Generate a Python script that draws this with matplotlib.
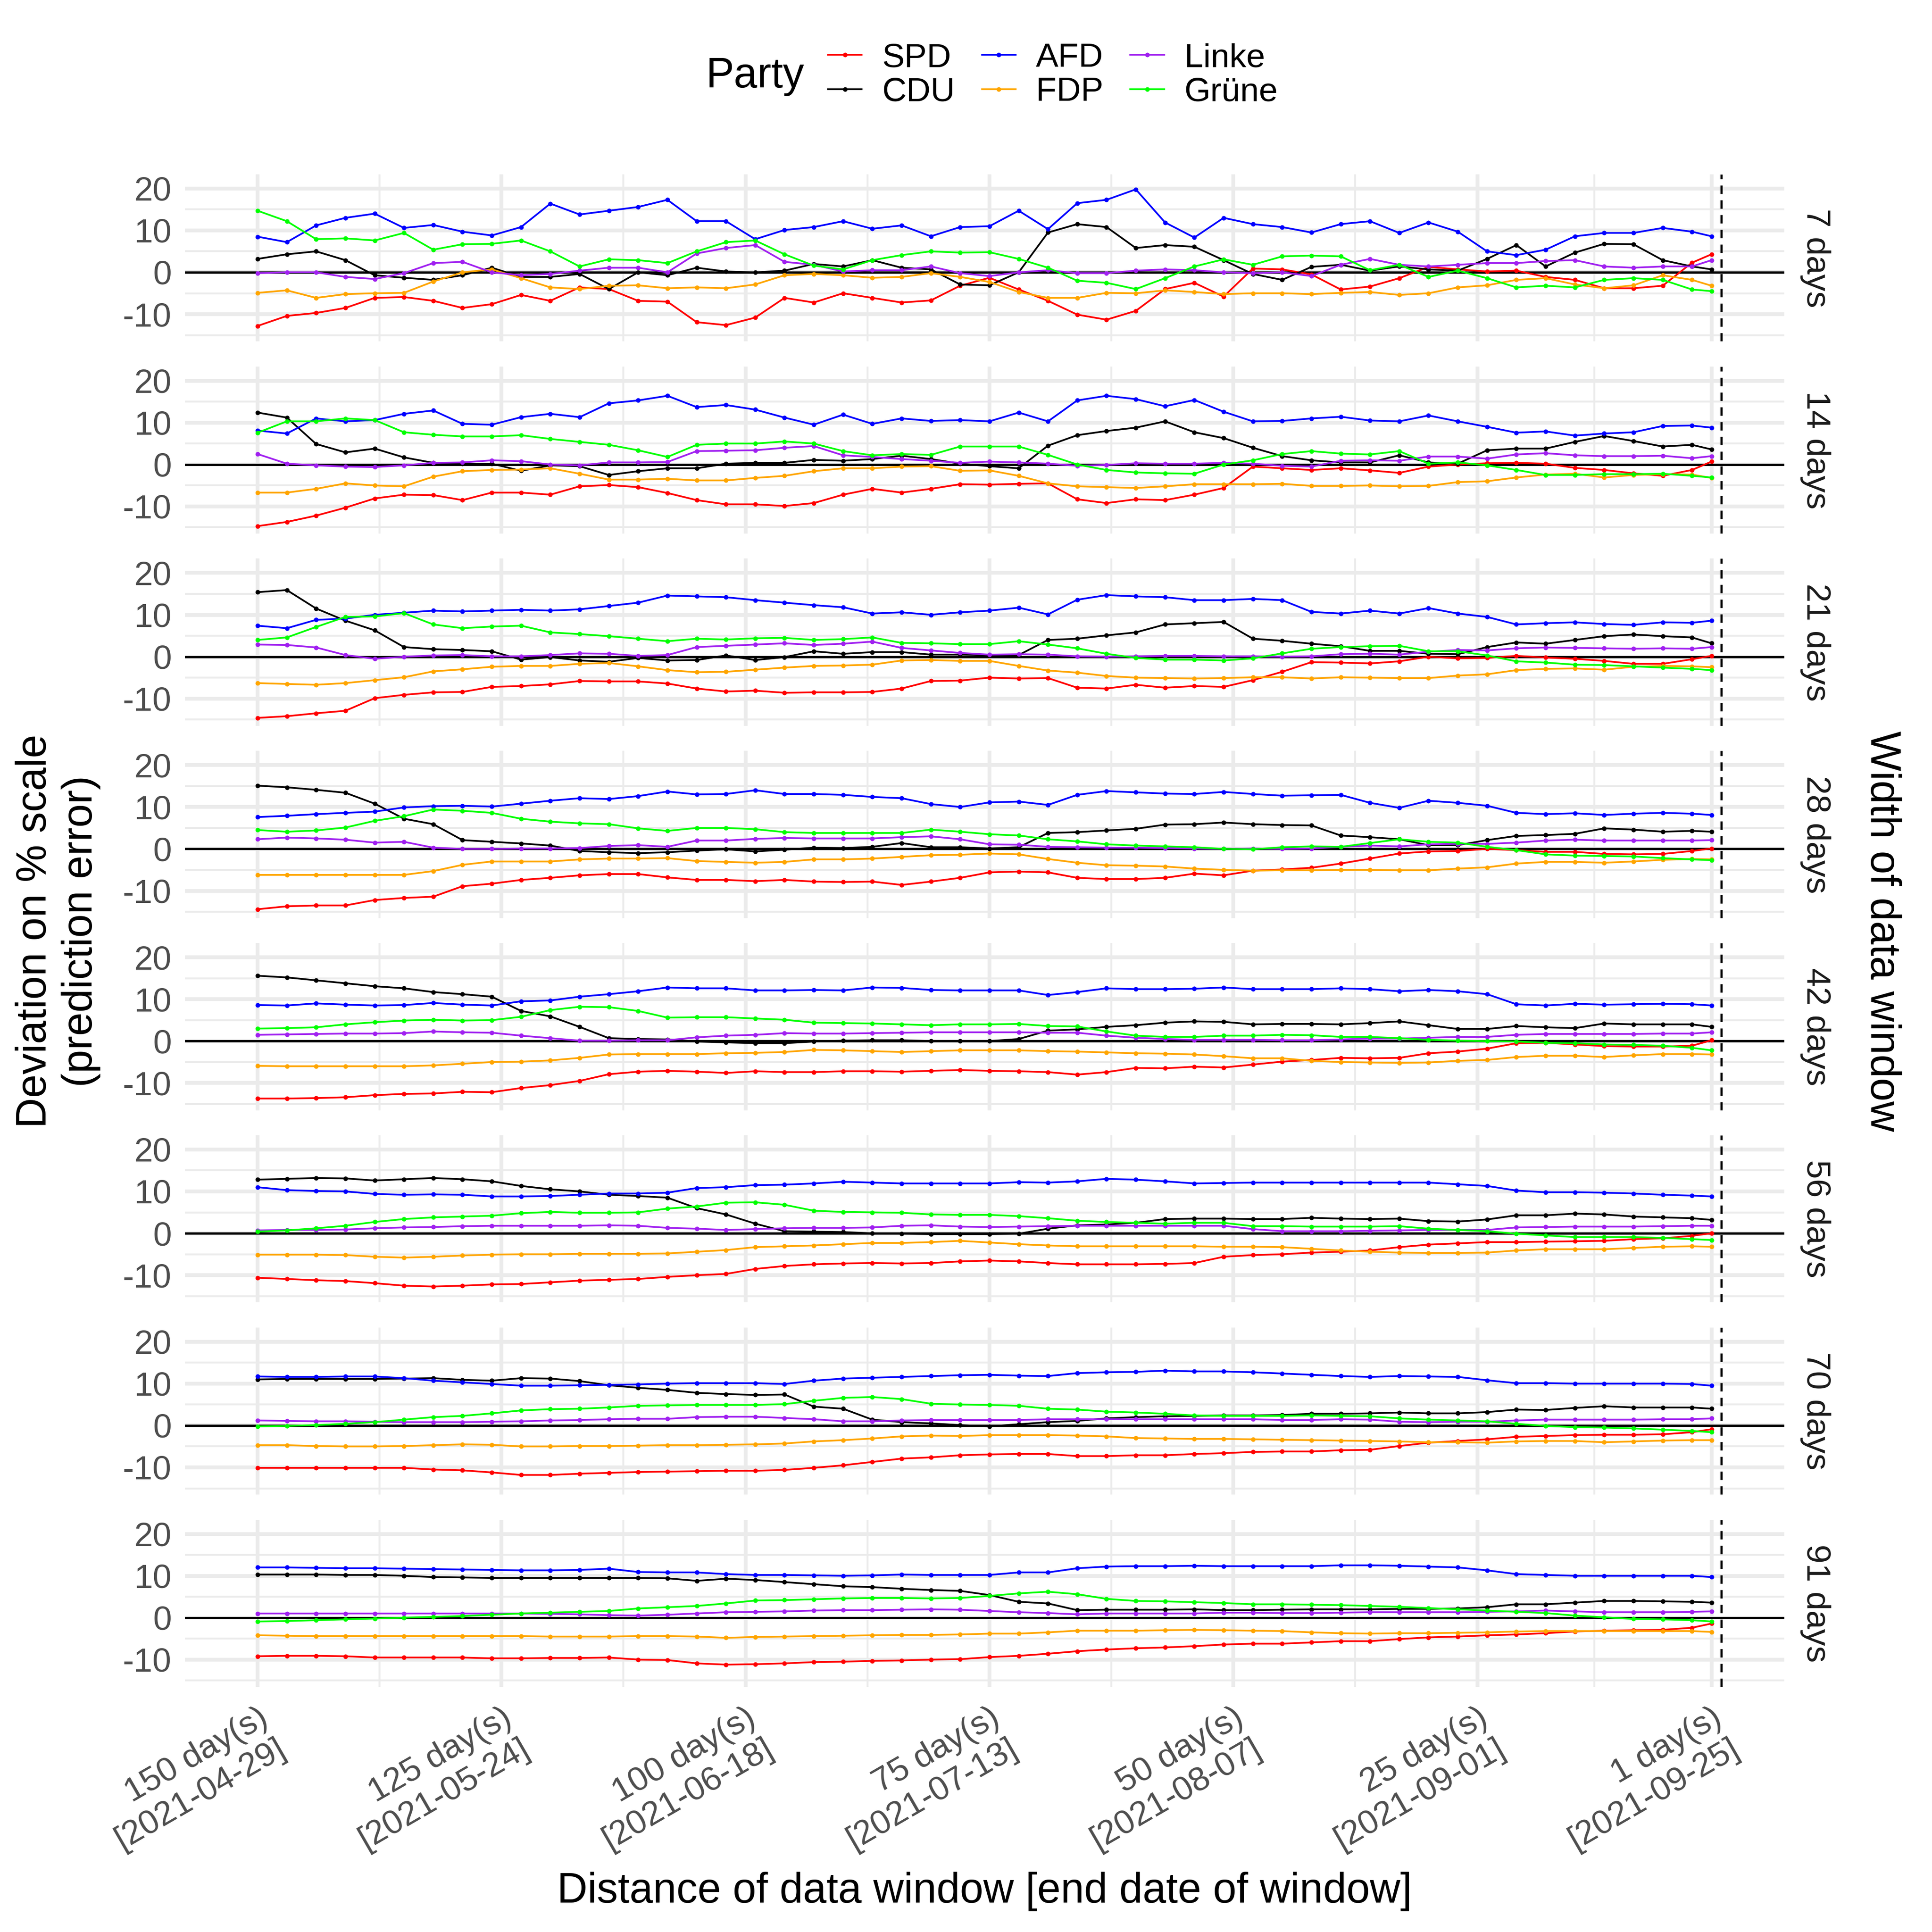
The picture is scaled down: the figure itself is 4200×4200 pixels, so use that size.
import matplotlib.pyplot as plt
from matplotlib.lines import Line2D

plt.rcParams['font.family'] = ['Liberation Sans', 'DejaVu Sans']
plt.rcParams['axes.unicode_minus'] = False

# distance of the data window (days before the election), sampled every 3 days
days = list(range(150, 0, -3)) + [1]

# 7 days window
spd_7 = [-12.8, -10.4, -9.7, -8.5, -6.1, -5.9, -6.8, -8.5, -7.6, -5.4, -6.8, -3.6, -4.0, -6.8, -7.0, -11.9, -12.6, -10.8, -6.1, -7.2, -5.0, -6.1, -7.2, -6.7, -3.2, -1.3,
         -4.1, -6.8, -10.1, -11.3, -9.2, -4.0, -2.5, -5.8, 0.9, 0.7, -0.5, -4.1, -3.4, -1.4, 1.3, 0.7, 0.2, 0.4, -1.1, -1.8, -3.8, -3.8, -3.2, 2.3, 4.3]
cdu_7 = [3.2, 4.3, 5.0, 2.9, -0.7, -1.3, -1.8, -0.7, 1.1, -1.1, -1.1, -0.4, -4.0, 0.0, -0.7, 1.1, 0.2, 0.0, 0.4, 2.0, 1.4, 2.9, 1.1, 0.7, -2.9, -3.1,
         0.0, 9.5, 11.5, 10.8, 5.8, 6.5, 6.1, 2.9, -0.4, -1.8, 1.3, 1.8, 0.4, 1.4, 0.7, 0.4, 3.2, 6.5, 1.4, 4.7, 6.8, 6.7, 2.9, 1.4, 0.7]
afd_7 = [8.5, 7.2, 11.2, 13.0, 14.0, 10.6, 11.3, 9.7, 8.8, 10.8, 16.4, 13.8, 14.7, 15.6, 17.3, 12.2, 12.2, 7.9, 10.1, 10.8, 12.2, 10.4, 11.2, 8.6, 10.8, 11.0,
         14.7, 10.3, 16.5, 17.3, 19.8, 11.9, 8.3, 13.0, 11.5, 10.8, 9.5, 11.5, 12.2, 9.4, 11.9, 9.7, 5.0, 4.1, 5.4, 8.6, 9.4, 9.4, 10.6, 9.7, 8.6]
fdp_7 = [-4.9, -4.3, -6.1, -5.2, -5.0, -4.9, -2.2, 0.0, 0.7, -1.4, -3.6, -4.0, -3.2, -3.1, -3.8, -3.6, -3.8, -2.9, -0.7, -0.4, -0.7, -1.3, -1.1, -0.2, -1.1, -2.3,
         -4.7, -6.1, -6.1, -4.9, -5.0, -4.3, -4.7, -5.2, -5.0, -5.0, -5.2, -4.9, -4.7, -5.4, -5.0, -3.6, -3.1, -1.8, -1.4, -2.9, -3.8, -3.1, -0.7, -1.8, -3.2]
lin_7 = [-0.2, 0.0, 0.0, -1.1, -1.6, -0.2, 2.2, 2.5, 0.0, -0.7, -0.4, 0.4, 1.1, 1.1, 0.0, 4.5, 5.8, 6.5, 2.5, 1.8, 0.2, 0.5, 0.5, 1.4, -0.2, -0.9,
         0.0, 0.5, -0.2, -0.2, 0.4, 0.7, 0.5, 0.0, -0.2, 0.0, -0.9, 1.8, 3.2, 1.8, 1.4, 1.8, 2.2, 2.2, 2.7, 2.9, 1.4, 1.1, 1.4, 1.4, 2.9]
gru_7 = [14.7, 12.2, 7.9, 8.1, 7.6, 9.4, 5.4, 6.7, 6.8, 7.6, 5.0, 1.4, 3.1, 2.9, 2.2, 5.0, 7.2, 7.6, 4.3, 1.6, 0.7, 2.9, 4.1, 5.0, 4.7, 4.8,
         3.2, 1.1, -2.0, -2.5, -4.0, -1.4, 1.4, 3.1, 1.8, 3.8, 4.0, 3.8, 0.5, 1.8, -1.1, 0.4, -1.4, -3.6, -3.2, -3.6, -1.8, -1.4, -1.8, -4.1, -4.5]

# 14 days window
spd_14 = [-14.7, -13.7, -12.2, -10.3, -8.1, -7.2, -7.3, -8.5, -6.7, -6.7, -7.2, -5.2, -4.9, -5.4, -6.8, -8.5, -9.5, -9.5, -9.9, -9.2, -7.2, -5.8, -6.7, -5.8, -4.7, -4.8,
          -4.6, -4.5, -8.3, -9.2, -8.3, -8.5, -7.2, -5.6, -0.5, -0.9, -1.3, -0.9, -1.4, -2.0, -0.5, 0.0, 0.3, 0.4, 0.2, -0.8, -1.3, -2.1, -2.7, -1.3, 0.7]
cdu_14 = [12.4, 11.2, 4.9, 2.9, 3.8, 1.7, 0.4, 0.2, 0.2, -1.5, -0.2, -0.4, -2.5, -1.6, -0.9, -0.9, 0.2, 0.4, 0.4, 1.1, 0.9, 1.3, 2.1, 1.3, 0.2, -0.4,
          -0.9, 4.5, 7.0, 8.0, 8.8, 10.3, 7.7, 6.3, 4.0, 2.0, 1.0, 0.5, 0.5, 2.2, 0.5, 0.2, 3.4, 3.8, 3.8, 5.4, 6.8, 5.6, 4.3, 4.7, 3.6]
afd_14 = [8.1, 7.4, 11.0, 10.3, 10.6, 12.1, 12.9, 9.7, 9.5, 11.3, 12.1, 11.3, 14.6, 15.3, 16.4, 13.7, 14.2, 13.1, 11.2, 9.5, 11.9, 9.7, 11.0, 10.4, 10.6, 10.3,
          12.4, 10.3, 15.3, 16.4, 15.6, 13.9, 15.4, 12.6, 10.3, 10.4, 11.0, 11.4, 10.5, 10.3, 11.7, 10.3, 9.0, 7.6, 7.9, 6.9, 7.4, 7.7, 9.2, 9.3, 8.8]
fdp_14 = [-6.7, -6.7, -5.8, -4.5, -5.0, -5.2, -2.9, -1.6, -1.3, -1.2, -0.9, -2.2, -3.6, -3.6, -3.4, -3.8, -3.8, -3.2, -2.7, -1.6, -0.9, -0.9, -0.5, -0.4, -1.5, -1.4,
          -2.7, -4.5, -5.2, -5.4, -5.6, -5.2, -4.7, -4.7, -4.7, -4.6, -5.1, -5.1, -5.0, -5.2, -5.1, -4.2, -4.0, -3.1, -2.4, -2.2, -3.1, -2.5, -2.3, -2.4, -3.2]
lin_14 = [2.5, 0.2, -0.2, -0.5, -0.6, -0.2, 0.4, 0.5, 1.0, 0.8, 0.0, -0.2, 0.5, 0.5, 0.6, 3.2, 3.3, 3.4, 4.0, 4.4, 2.2, 1.8, 1.3, 0.9, 0.4, 0.7,
          0.5, 0.2, -0.3, -0.1, 0.3, 0.2, 0.2, 0.4, 0.2, -0.3, -0.5, 0.9, 1.0, 0.9, 1.9, 1.9, 1.4, 2.4, 2.7, 2.2, 2.0, 2.0, 2.1, 1.5, 2.0]
gru_14 = [7.6, 10.3, 10.3, 11.0, 10.6, 7.7, 7.1, 6.7, 6.7, 7.0, 6.1, 5.4, 4.7, 3.4, 1.8, 4.7, 5.0, 5.0, 5.5, 5.0, 3.2, 2.2, 2.5, 2.3, 4.3, 4.3,
          4.3, 2.3, 0.0, -1.3, -1.9, -2.1, -2.2, 0.0, 1.0, 2.5, 3.2, 2.6, 2.4, 3.2, 0.2, 0.5, -0.2, -1.3, -2.5, -2.5, -2.3, -2.3, -2.2, -2.7, -3.1]

# 21 days window
spd_21 = [-14.6, -14.2, -13.5, -12.9, -9.9, -9.1, -8.5, -8.4, -7.2, -7.0, -6.6, -5.8, -5.9, -5.9, -6.4, -7.6, -8.3, -8.1, -8.6, -8.5, -8.5, -8.4, -7.6, -5.8, -5.7, -5.0,
          -5.2, -5.1, -7.4, -7.6, -6.7, -7.4, -7.0, -7.2, -5.6, -3.6, -1.3, -1.4, -1.6, -1.1, 0.0, -0.4, -0.3, 0.2, -0.2, -0.5, -1.0, -1.7, -1.7, -0.6, 0.2]
cdu_21 = [15.4, 15.9, 11.5, 8.6, 6.3, 2.3, 1.8, 1.6, 1.3, -0.7, -0.1, -0.9, -1.2, -0.3, -0.9, -0.8, 0.3, -0.8, -0.1, 1.3, 0.7, 1.1, 1.1, 0.5, 0.5, 0.3,
          0.4, 4.0, 4.3, 5.1, 5.8, 7.7, 8.0, 8.3, 4.3, 3.8, 3.1, 2.5, 1.4, 1.4, 0.7, 0.6, 2.3, 3.4, 3.1, 4.0, 4.9, 5.3, 4.9, 4.6, 3.2]
afd_21 = [7.4, 6.8, 8.8, 9.1, 10.0, 10.5, 11.0, 10.8, 11.0, 11.2, 11.0, 11.3, 12.1, 12.9, 14.6, 14.4, 14.2, 13.5, 12.9, 12.3, 11.8, 10.3, 10.6, 10.0, 10.6, 11.0,
          11.7, 10.1, 13.6, 14.7, 14.4, 14.2, 13.5, 13.5, 13.8, 13.5, 10.7, 10.3, 11.0, 10.3, 11.6, 10.3, 9.5, 7.7, 8.0, 8.2, 7.8, 7.6, 8.2, 8.1, 8.6]
fdp_21 = [-6.3, -6.5, -6.7, -6.3, -5.6, -4.9, -3.5, -3.0, -2.4, -2.2, -2.2, -1.7, -1.5, -2.3, -3.2, -3.7, -3.6, -3.1, -2.6, -2.2, -2.1, -1.9, -0.9, -0.8, -1.0, -1.0,
          -2.2, -3.3, -3.8, -4.6, -5.0, -5.1, -5.2, -5.1, -4.9, -4.9, -5.2, -4.9, -5.0, -5.1, -5.1, -4.5, -4.2, -3.2, -2.9, -2.8, -3.1, -2.4, -2.2, -2.3, -2.5]
lin_21 = [2.9, 2.8, 2.2, 0.4, -0.5, 0.0, 0.3, 0.4, 0.1, 0.1, 0.4, 0.8, 0.7, 0.2, 0.4, 2.3, 2.6, 2.9, 3.2, 2.8, 3.1, 3.6, 2.1, 1.5, 0.9, 0.5,
          0.6, 0.5, 0.1, 0.0, 0.1, 0.2, 0.2, 0.1, 0.1, 0.0, 0.1, 0.6, 0.7, 0.5, 1.2, 1.6, 1.5, 2.0, 2.2, 2.1, 2.0, 1.9, 2.0, 1.9, 2.3]
gru_21 = [4.0, 4.6, 7.1, 9.5, 9.6, 10.4, 7.7, 6.8, 7.2, 7.4, 5.8, 5.4, 4.9, 4.3, 3.7, 4.3, 4.1, 4.4, 4.5, 4.0, 4.2, 4.6, 3.3, 3.2, 3.0, 3.0,
          3.7, 2.9, 2.0, 0.7, -0.3, -0.7, -0.7, -0.9, -0.4, 0.8, 1.9, 2.3, 2.5, 2.6, 1.3, 1.3, 0.3, -1.1, -1.4, -1.9, -2.0, -2.3, -2.6, -2.9, -3.2]

# 28 days window
spd_28 = [-14.4, -13.7, -13.5, -13.5, -12.2, -11.7, -11.4, -8.9, -8.3, -7.4, -6.9, -6.3, -6.0, -6.0, -6.8, -7.4, -7.4, -7.7, -7.4, -7.8, -7.9, -7.8, -8.6, -7.8, -6.9, -5.6,
          -5.4, -5.6, -6.9, -7.2, -7.2, -6.9, -5.9, -6.3, -5.2, -4.9, -4.5, -3.5, -2.3, -1.1, -0.6, -0.5, 0.0, -0.3, -0.7, -0.7, -1.2, -1.3, -1.2, -0.5, 0.1]
cdu_28 = [15.1, 14.7, 14.1, 13.4, 10.8, 7.2, 5.9, 2.1, 1.7, 1.3, 0.8, -0.5, -0.8, -1.0, -0.8, -0.4, -0.1, -0.6, -0.2, 0.3, 0.2, 0.5, 1.4, 0.4, 0.4, 0.1,
          0.4, 3.8, 4.0, 4.4, 4.8, 5.8, 5.9, 6.3, 5.9, 5.7, 5.6, 3.2, 2.8, 2.3, 0.9, 0.9, 2.1, 3.1, 3.3, 3.6, 4.9, 4.6, 4.1, 4.3, 4.1]
afd_28 = [7.6, 7.9, 8.3, 8.6, 8.9, 9.9, 10.2, 10.3, 10.1, 10.8, 11.5, 12.1, 11.9, 12.6, 13.7, 13.0, 13.1, 14.0, 13.1, 13.1, 12.9, 12.4, 12.1, 10.7, 10.0, 11.1,
          11.3, 10.5, 12.9, 13.8, 13.5, 13.2, 13.1, 13.6, 13.1, 12.7, 12.8, 12.9, 11.0, 9.8, 11.5, 11.0, 10.3, 8.6, 8.3, 8.5, 8.1, 8.4, 8.6, 8.4, 8.1]
fdp_28 = [-6.2, -6.2, -6.2, -6.2, -6.2, -6.2, -5.3, -3.8, -3.0, -3.0, -3.0, -2.5, -2.3, -2.3, -2.2, -2.9, -3.1, -3.3, -3.1, -2.5, -2.5, -2.3, -1.9, -1.5, -1.4, -1.1,
          -1.3, -2.4, -3.3, -3.9, -4.0, -4.2, -4.7, -5.0, -5.2, -5.1, -5.1, -5.0, -5.0, -5.1, -5.1, -4.7, -4.4, -3.5, -3.1, -3.1, -3.3, -3.0, -2.6, -2.4, -2.5]
lin_28 = [2.3, 2.7, 2.5, 2.2, 1.5, 1.7, 0.3, 0.0, 0.0, 0.1, 0.1, 0.2, 0.7, 0.9, 0.5, 2.0, 2.0, 2.4, 2.6, 2.5, 2.5, 2.5, 2.8, 3.0, 2.3, 1.1,
          1.0, 0.5, 0.4, 0.3, 0.3, 0.2, 0.1, 0.0, 0.1, 0.0, 0.1, 0.5, 0.8, 0.6, 1.1, 1.2, 1.2, 1.5, 2.0, 2.2, 2.0, 2.0, 2.0, 2.0, 2.1]
gru_28 = [4.5, 4.1, 4.4, 5.1, 6.7, 7.8, 9.4, 9.1, 8.6, 7.2, 6.5, 6.1, 5.9, 4.9, 4.3, 5.0, 5.0, 4.7, 4.0, 3.8, 3.8, 3.8, 3.8, 4.6, 4.1, 3.5,
          3.2, 2.3, 1.8, 1.1, 0.8, 0.6, 0.4, 0.0, -0.1, 0.4, 0.6, 0.5, 1.4, 2.3, 1.7, 1.5, 0.5, -0.3, -1.3, -1.6, -1.7, -1.8, -2.2, -2.5, -2.7]

# 42 days window
spd_42 = [-13.7, -13.7, -13.6, -13.4, -12.9, -12.6, -12.5, -12.1, -12.2, -11.2, -10.5, -9.5, -7.9, -7.3, -7.1, -7.3, -7.6, -7.2, -7.4, -7.4, -7.2, -7.2, -7.3, -7.1, -6.9, -7.1,
          -7.2, -7.4, -8.0, -7.4, -6.4, -6.5, -6.1, -6.3, -5.6, -4.9, -4.5, -4.0, -4.1, -4.0, -2.9, -2.5, -1.8, -0.5, -0.4, -0.8, -1.2, -1.3, -1.3, -1.1, 0.2]
cdu_42 = [15.6, 15.2, 14.5, 13.8, 13.1, 12.6, 11.7, 11.2, 10.6, 7.2, 5.9, 3.4, 0.7, 0.5, 0.4, -0.1, -0.3, -0.5, -0.5, -0.1, 0.1, 0.2, 0.2, 0.0, 0.0, 0.0,
          0.5, 2.5, 2.8, 3.4, 3.8, 4.4, 4.7, 4.6, 4.0, 4.1, 4.1, 4.0, 4.3, 4.7, 3.8, 2.9, 2.9, 3.6, 3.3, 3.1, 4.2, 4.0, 4.0, 4.0, 3.4]
afd_42 = [8.6, 8.5, 9.0, 8.7, 8.5, 8.6, 9.1, 8.7, 8.5, 9.5, 9.7, 10.6, 11.2, 11.9, 12.8, 12.6, 12.6, 12.1, 12.1, 12.2, 12.1, 12.8, 12.7, 12.2, 12.1, 12.1,
          12.1, 11.0, 11.7, 12.6, 12.4, 12.4, 12.5, 12.8, 12.4, 12.4, 12.4, 12.6, 12.4, 11.9, 12.2, 11.9, 11.2, 8.8, 8.5, 8.9, 8.7, 8.8, 8.9, 8.8, 8.5]
fdp_42 = [-5.9, -6.0, -6.0, -6.0, -6.0, -6.0, -5.8, -5.4, -5.0, -4.9, -4.6, -4.0, -3.2, -3.1, -3.1, -3.1, -2.9, -2.8, -2.6, -2.1, -2.2, -2.4, -2.6, -2.4, -2.2, -2.2,
          -2.2, -2.4, -2.5, -2.7, -2.9, -3.0, -3.2, -3.6, -4.1, -4.1, -4.7, -5.0, -5.1, -5.2, -5.1, -4.7, -4.5, -3.8, -3.5, -3.5, -3.8, -3.4, -3.1, -3.1, -3.2]
lin_42 = [1.5, 1.6, 1.7, 1.8, 1.8, 1.9, 2.3, 2.1, 2.0, 1.3, 0.7, 0.1, 0.1, 0.2, 0.2, 0.9, 1.3, 1.5, 1.9, 1.8, 1.8, 1.9, 2.0, 2.1, 2.1, 2.1,
          2.1, 2.0, 2.0, 1.3, 0.8, 0.5, 0.3, 0.3, 0.3, 0.2, 0.2, 0.4, 0.6, 0.6, 0.8, 1.0, 1.0, 1.5, 1.7, 1.7, 1.7, 1.7, 1.8, 1.8, 2.1]
gru_42 = [3.0, 3.1, 3.3, 4.0, 4.5, 4.9, 5.1, 4.9, 5.0, 5.8, 7.4, 8.2, 8.1, 7.2, 5.6, 5.7, 5.7, 5.4, 5.1, 4.4, 4.3, 4.2, 4.0, 3.8, 4.0, 4.0,
          4.1, 3.6, 3.5, 2.3, 1.3, 1.0, 1.0, 1.3, 1.3, 1.5, 1.4, 1.0, 1.0, 0.7, 0.3, 0.1, 0.0, -0.1, -0.4, -0.5, -0.8, -0.9, -1.1, -1.6, -2.2]

# 56 days window
spd_56 = [-10.6, -10.9, -11.2, -11.4, -11.9, -12.5, -12.7, -12.5, -12.2, -12.1, -11.7, -11.3, -11.1, -10.9, -10.4, -10.0, -9.7, -8.5, -7.8, -7.4, -7.2, -7.1, -7.2, -7.1, -6.7, -6.5,
          -6.7, -7.1, -7.4, -7.4, -7.4, -7.3, -7.1, -5.6, -5.2, -5.0, -4.6, -4.4, -4.1, -3.3, -2.7, -2.4, -2.1, -2.1, -2.0, -1.9, -1.8, -1.4, -1.2, -0.6, 0.0]
cdu_56 = [12.8, 13.0, 13.2, 13.1, 12.6, 12.9, 13.2, 12.9, 12.4, 11.3, 10.5, 10.0, 9.2, 8.9, 8.5, 6.0, 4.5, 2.3, 0.5, 0.4, 0.3, 0.0, -0.1, -0.2, -0.2, -0.2,
          -0.1, 1.1, 1.9, 2.1, 2.5, 3.4, 3.5, 3.5, 3.4, 3.4, 3.7, 3.5, 3.4, 3.5, 2.9, 2.8, 3.3, 4.3, 4.3, 4.7, 4.5, 4.0, 3.8, 3.6, 3.2]
afd_56 = [11.0, 10.3, 10.1, 10.0, 9.4, 9.2, 9.3, 9.2, 8.8, 8.8, 8.9, 9.2, 9.5, 9.5, 9.7, 10.8, 11.0, 11.5, 11.6, 11.9, 12.3, 12.1, 11.9, 11.9, 11.9, 11.9,
          12.2, 12.1, 12.4, 13.0, 12.8, 12.4, 11.9, 12.0, 12.1, 12.1, 12.1, 12.1, 12.1, 12.1, 12.1, 11.7, 11.3, 10.2, 9.8, 9.8, 9.7, 9.5, 9.2, 9.0, 8.8]
fdp_56 = [-5.1, -5.1, -5.1, -5.2, -5.6, -5.8, -5.6, -5.3, -5.1, -5.0, -5.0, -4.9, -4.9, -4.9, -4.8, -4.4, -4.0, -3.3, -3.1, -2.9, -2.6, -2.3, -2.3, -2.1, -1.8, -2.2,
          -2.6, -2.9, -3.1, -3.1, -3.1, -3.1, -3.1, -3.2, -3.2, -3.3, -3.7, -4.1, -4.4, -4.6, -4.7, -4.7, -4.6, -4.1, -3.8, -3.8, -3.8, -3.5, -3.2, -3.1, -3.2]
lin_56 = [0.7, 0.8, 0.8, 0.9, 1.2, 1.4, 1.5, 1.7, 1.8, 1.8, 1.8, 1.8, 1.9, 1.8, 1.3, 1.1, 0.8, 1.0, 1.2, 1.3, 1.3, 1.4, 1.8, 1.9, 1.6, 1.5,
          1.6, 1.7, 1.8, 1.8, 1.8, 1.8, 1.8, 1.8, 1.0, 0.5, 0.5, 0.5, 0.6, 0.7, 0.8, 0.8, 0.8, 1.4, 1.5, 1.6, 1.6, 1.6, 1.7, 1.8, 1.8]
gru_56 = [0.4, 0.7, 1.2, 1.8, 2.7, 3.4, 3.8, 4.0, 4.2, 4.8, 5.1, 4.9, 4.9, 5.0, 5.9, 6.4, 7.3, 7.4, 6.8, 5.4, 5.1, 5.0, 4.9, 4.5, 4.4, 4.4,
          4.1, 3.6, 3.0, 2.7, 2.5, 2.3, 2.5, 2.5, 1.7, 1.7, 1.6, 1.6, 1.6, 1.7, 1.1, 0.8, 0.5, -0.1, -0.5, -0.9, -0.9, -0.9, -1.1, -1.4, -1.6]

# 70 days window
spd_70 = [-10.1, -10.1, -10.1, -10.1, -10.1, -10.1, -10.5, -10.7, -11.2, -11.8, -11.8, -11.5, -11.3, -11.1, -11.0, -10.9, -10.8, -10.8, -10.6, -10.1, -9.5, -8.7, -7.9, -7.6, -7.1, -6.9,
          -6.8, -6.8, -7.3, -7.3, -7.1, -7.1, -6.8, -6.6, -6.3, -6.2, -6.2, -5.9, -5.8, -4.9, -4.1, -3.7, -3.3, -2.7, -2.5, -2.3, -2.2, -2.2, -2.1, -1.6, -0.9]
cdu_70 = [11.0, 11.1, 11.1, 11.1, 11.1, 11.2, 11.3, 10.9, 10.7, 11.3, 11.2, 10.6, 9.6, 9.0, 8.5, 7.8, 7.5, 7.3, 7.4, 4.5, 4.0, 1.4, 0.8, 0.5, 0.1, -0.2,
          0.3, 0.8, 1.1, 1.7, 2.0, 2.2, 2.3, 2.4, 2.4, 2.5, 2.8, 2.8, 2.9, 3.1, 2.9, 2.9, 3.2, 3.8, 3.7, 4.2, 4.6, 4.3, 4.3, 4.3, 4.0]
afd_70 = [11.7, 11.6, 11.6, 11.7, 11.7, 11.3, 10.7, 10.3, 9.9, 9.5, 9.5, 9.6, 9.7, 9.8, 10.0, 10.1, 10.1, 10.1, 9.9, 10.7, 11.2, 11.4, 11.6, 11.8, 12.0, 12.1,
          11.9, 11.8, 12.5, 12.7, 12.8, 13.1, 12.9, 12.9, 12.7, 12.4, 12.1, 11.8, 11.6, 11.8, 11.7, 11.6, 10.8, 10.1, 10.1, 10.0, 10.0, 10.0, 10.0, 9.9, 9.5]
fdp_70 = [-4.7, -4.7, -4.9, -5.0, -5.0, -4.9, -4.7, -4.5, -4.6, -5.0, -5.0, -4.9, -4.9, -4.8, -4.7, -4.7, -4.6, -4.5, -4.3, -3.8, -3.5, -3.1, -2.6, -2.4, -2.5, -2.3,
          -2.3, -2.3, -2.4, -2.6, -3.0, -3.1, -3.2, -3.2, -3.3, -3.4, -3.5, -3.6, -3.7, -3.8, -4.0, -4.0, -4.1, -3.8, -3.7, -3.7, -4.0, -3.8, -3.6, -3.5, -3.5]
lin_70 = [1.2, 1.1, 1.0, 1.0, 0.9, 0.8, 0.8, 0.8, 0.9, 1.0, 1.2, 1.3, 1.5, 1.6, 1.6, 2.0, 2.1, 2.1, 1.8, 1.5, 1.0, 1.0, 1.2, 1.3, 1.3, 1.3,
          1.3, 1.5, 1.5, 1.5, 1.5, 1.5, 1.5, 1.5, 1.5, 1.3, 1.3, 1.5, 1.4, 0.9, 0.8, 0.9, 0.9, 1.2, 1.4, 1.4, 1.4, 1.4, 1.5, 1.5, 1.7]
gru_70 = [-0.2, -0.1, 0.1, 0.4, 0.8, 1.4, 2.0, 2.3, 2.9, 3.6, 3.9, 4.0, 4.3, 4.7, 4.8, 4.9, 4.9, 4.9, 5.1, 5.9, 6.6, 6.8, 6.3, 5.2, 5.0, 4.9,
          4.7, 4.0, 3.8, 3.3, 3.1, 2.8, 2.4, 2.3, 2.3, 2.3, 2.4, 2.3, 2.2, 1.7, 1.4, 1.2, 1.0, 0.4, -0.1, -0.4, -0.5, -0.7, -1.0, -1.3, -1.6]

# 91 days window
spd_91 = [-9.2, -9.1, -9.1, -9.2, -9.5, -9.5, -9.5, -9.5, -9.7, -9.7, -9.6, -9.6, -9.5, -10.0, -10.1, -10.9, -11.2, -11.1, -10.9, -10.6, -10.5, -10.3, -10.2, -10.0, -9.9, -9.4,
          -9.1, -8.6, -8.0, -7.6, -7.3, -7.1, -6.8, -6.4, -6.2, -6.2, -5.9, -5.6, -5.6, -5.1, -4.7, -4.5, -4.2, -4.0, -3.7, -3.3, -3.1, -3.0, -2.9, -2.4, -1.4]
cdu_91 = [10.3, 10.3, 10.3, 10.2, 10.2, 10.0, 9.7, 9.6, 9.5, 9.5, 9.5, 9.5, 9.5, 9.5, 9.4, 8.8, 9.3, 9.0, 8.5, 8.0, 7.5, 7.3, 6.9, 6.6, 6.4, 5.4,
          3.8, 3.4, 1.8, 1.9, 1.9, 1.9, 2.0, 1.8, 1.8, 1.9, 2.0, 2.0, 2.0, 2.1, 2.1, 2.2, 2.5, 3.2, 3.2, 3.6, 4.0, 4.0, 3.9, 3.8, 3.6]
afd_91 = [12.0, 12.0, 11.9, 11.8, 11.8, 11.7, 11.6, 11.5, 11.4, 11.3, 11.3, 11.4, 11.7, 10.9, 10.8, 10.8, 10.4, 10.2, 10.2, 10.1, 10.0, 10.1, 10.3, 10.2, 10.2, 10.2,
          10.8, 10.8, 11.8, 12.2, 12.3, 12.3, 12.4, 12.3, 12.3, 12.3, 12.3, 12.5, 12.5, 12.4, 12.2, 12.0, 11.3, 10.4, 10.2, 10.0, 10.0, 10.0, 10.0, 10.0, 9.7]
fdp_91 = [-4.2, -4.3, -4.4, -4.4, -4.4, -4.4, -4.4, -4.4, -4.4, -4.4, -4.5, -4.5, -4.5, -4.4, -4.4, -4.5, -4.8, -4.6, -4.5, -4.4, -4.3, -4.2, -4.1, -4.1, -4.0, -3.8,
          -3.8, -3.5, -3.1, -3.1, -3.1, -3.0, -2.9, -3.0, -3.1, -3.2, -3.5, -3.7, -3.8, -3.7, -3.7, -3.6, -3.5, -3.3, -3.2, -3.2, -3.2, -3.2, -3.2, -3.2, -3.4]
lin_91 = [1.0, 1.0, 1.0, 1.0, 1.0, 1.0, 1.0, 1.0, 1.0, 1.0, 0.9, 0.8, 0.6, 0.5, 0.7, 1.0, 1.3, 1.4, 1.5, 1.7, 1.8, 1.8, 1.9, 2.0, 1.9, 1.6,
          1.3, 1.1, 0.8, 1.0, 1.0, 1.0, 1.0, 1.2, 1.2, 1.1, 1.1, 1.2, 1.3, 1.3, 1.3, 1.3, 1.4, 1.5, 1.7, 1.5, 1.3, 1.3, 1.3, 1.4, 1.5]
gru_91 = [-0.9, -0.8, -0.6, -0.4, -0.2, 0.0, 0.2, 0.4, 0.7, 1.0, 1.2, 1.4, 1.6, 2.2, 2.5, 2.8, 3.4, 4.1, 4.2, 4.4, 4.6, 4.7, 4.7, 4.6, 4.7, 5.2,
          5.8, 6.2, 5.6, 4.5, 4.0, 3.9, 3.7, 3.5, 3.2, 3.2, 3.1, 3.0, 2.8, 2.6, 2.3, 2.0, 1.7, 1.4, 1.1, 0.5, 0.1, -0.3, -0.4, -0.6, -0.9]

parties = ['SPD', 'CDU', 'AFD', 'FDP', 'Linke', 'Grüne']
party_colors = ['#FF0000', '#000000', '#0000FF', '#FFA500', '#A020F0', '#00FF00']
window_labels = ['7 days', '14 days', '21 days', '28 days', '42 days', '56 days', '70 days', '91 days']

panels = [
    [spd_7, cdu_7, afd_7, fdp_7, lin_7, gru_7],
    [spd_14, cdu_14, afd_14, fdp_14, lin_14, gru_14],
    [spd_21, cdu_21, afd_21, fdp_21, lin_21, gru_21],
    [spd_28, cdu_28, afd_28, fdp_28, lin_28, gru_28],
    [spd_42, cdu_42, afd_42, fdp_42, lin_42, gru_42],
    [spd_56, cdu_56, afd_56, fdp_56, lin_56, gru_56],
    [spd_70, cdu_70, afd_70, fdp_70, lin_70, gru_70],
    [spd_91, cdu_91, afd_91, fdp_91, lin_91, gru_91],
]

tick_days = [150, 125, 100, 75, 50, 25, 1]
tick_labels = ['150 day(s)\n[2021-04-29]', '125 day(s)\n[2021-05-24]', '100 day(s)\n[2021-06-18]',
               '75 day(s)\n[2021-07-13]', '50 day(s)\n[2021-08-07]', '25 day(s)\n[2021-09-01]',
               '1 day(s)\n[2021-09-25]']
minor_days = [137.5, 112.5, 87.5, 62.5, 37.5, 13]

small = 17.6   # axis text, strips, legend labels
large = 22     # titles
grey30 = '#4D4D4D'
grid_col = '#EBEBEB'

fig, axes = plt.subplots(8, 1, figsize=(14, 14), dpi=300, sharex=True)
fig.subplots_adjust(left=0.0957, right=0.9235, top=0.9098, bottom=0.1269, hspace=0.1496)

for ax, label, series in zip(axes, window_labels, panels):
    for s in ax.spines.values():
        s.set_visible(False)
    ax.set_xlim(157.45, -6.45)
    ax.set_ylim(-16.5, 23.4)
    ax.set_yticks([-10, 0, 10, 20])
    ax.set_yticks([-15, -5, 5, 15], minor=True)
    ax.set_xticks(tick_days)
    ax.set_xticks(minor_days, minor=True)
    ax.grid(which='major', color=grid_col, linewidth=2.0)
    ax.grid(which='minor', color=grid_col, linewidth=1.0)
    ax.set_axisbelow(True)
    ax.tick_params(which='both', length=0)
    ax.tick_params(axis='y', labelsize=small, labelcolor=grey30, pad=7)
    ax.axhline(0, color='black', linewidth=1.2, zorder=2)
    ax.axvline(0, color='black', linewidth=1.1, linestyle=(0, (4, 3)), zorder=2)
    for vals, col in zip(series, party_colors):
        ax.plot(days, vals, color=col, linewidth=0.9, marker='o', markersize=2.4,
                markeredgewidth=0, zorder=3)
    ax.text(1.0195, 0.5, label, transform=ax.transAxes, rotation=270,
            ha='center', va='center', fontsize=small, color='#1A1A1A')

axes[-1].set_xticklabels(tick_labels, rotation=30, ha='right', va='top',
                         rotation_mode='anchor', fontsize=small, color=grey30,
                         multialignment='right')
axes[-1].tick_params(axis='x', pad=8)

fig.text(0.5096, 0.021, 'Distance of data window [end date of window]',
         ha='center', va='center', fontsize=large)
fig.text(0.030, 0.518, 'Deviation on % scale\n(prediction error)', rotation=90,
         ha='center', va='center', fontsize=large, multialignment='center')
fig.text(0.974, 0.518, 'Width of data window', rotation=270,
         ha='center', va='center', fontsize=large)

# legend on top
fig.text(0.3654, 0.9605, 'Party', ha='left', va='center', fontsize=large)
handles = [Line2D([0], [0], color=c, linewidth=0.9, marker='o', markersize=2.4,
                  markeredgewidth=0) for c in party_colors]
fig.legend(handles, parties, ncol=3, loc='center', bbox_to_anchor=(0.545, 0.961),
           frameon=False, fontsize=small, handlelength=1.0, handletextpad=0.6,
           columnspacing=0.8, labelspacing=0.1)

fig.savefig('out.png', dpi=300, facecolor='white')
